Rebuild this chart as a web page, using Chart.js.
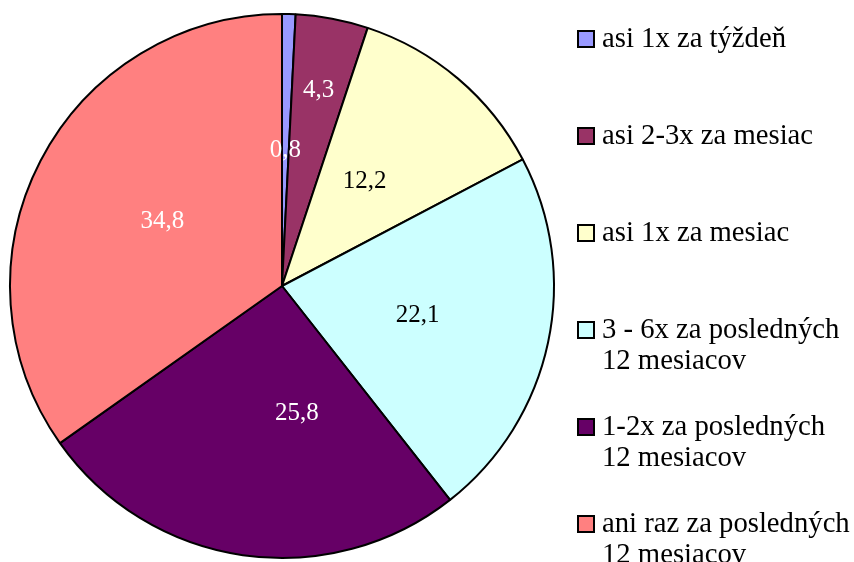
<!DOCTYPE html>
<html>
<head>
<meta charset="utf-8">
<script src="https://cdn.jsdelivr.net/npm/chart.js@4/dist/chart.umd.min.js"></script>
<style>
  html, body { margin: 0; padding: 0; background: #fff; }
  #wrap { width: 854px; height: 562px; position: relative; }
</style>
</head>
<body>
<div id="wrap"><canvas id="pie"></canvas></div>
<script>
// categories (each entry is one legend line set)
const categories = [
  ['asi 1x za týždeň'],
  ['asi 2-3x za mesiac'],
  ['asi 1x za mesiac'],
  ['3 - 6x za posledných', '12 mesiacov'],
  ['1-2x za posledných', '12 mesiacov'],
  ['ani raz za posledných', '12 mesiacov']
];
const shares = [0.8, 4.3, 12.2, 22.1, 25.8, 34.8];
const sliceColors = ['#9999FF', '#993366', '#FFFFCC', '#CCFFFF', '#660066', '#FF8080'];
const labelColors = ['#fff', '#fff', '#000', '#000', '#fff', '#fff'];

const SERIF = '"Liberation Serif", "Times New Roman", serif';

// value labels inside the slices (radius factor, angle nudge in degrees)
const labelPlace = [[0.5, 0], [0.73, 0], [0.49, -2], [0.51, 0], [0.47, -15], [0.5, 1]];
const valueLabels = {
  id: 'valueLabels',
  afterDatasetsDraw(chart) {
    const ctx = chart.ctx;
    const meta = chart.getDatasetMeta(0);
    ctx.save();
    ctx.font = '25px ' + SERIF;
    ctx.textAlign = 'center';
    ctx.textBaseline = 'middle';
    meta.data.forEach((arc, i) => {
      const [f, nudge] = labelPlace[i];
      const mid = (arc.startAngle + arc.endAngle) / 2 + nudge * Math.PI / 180;
      const r = arc.outerRadius * f;
      ctx.fillStyle = labelColors[i];
      ctx.fillText(shares[i].toFixed(1).replace('.', ','),
        arc.x + Math.cos(mid) * r, arc.y + Math.sin(mid) * r);
    });
    ctx.restore();
  }
};

// legend on the right, with wrapped lines
const sideLegend = {
  id: 'sideLegend',
  afterDraw(chart) {
    const ctx = chart.ctx;
    const x0 = 578, step = 97, y0 = 39, lineH = 31;
    ctx.save();
    ctx.font = '28.7px ' + SERIF;
    ctx.textBaseline = 'middle';
    ctx.textAlign = 'left';
    chart.data.labels.forEach((lines, i) => {
      const y = y0 + i * step;
      ctx.fillStyle = sliceColors[i];
      ctx.fillRect(x0, y - 8, 16, 16);
      ctx.strokeStyle = '#000';
      ctx.lineWidth = 2;
      ctx.strokeRect(x0, y - 8, 16, 16);
      ctx.fillStyle = '#000';
      lines.forEach((t, k) => ctx.fillText(t, x0 + 24, y + k * lineH));
    });
    ctx.restore();
  }
};

new Chart(document.getElementById('pie'), {
  type: 'pie',
  data: {
    labels: categories,
    datasets: [{
      data: shares,
      backgroundColor: sliceColors,
      borderColor: '#000',
      borderWidth: 2,
      borderAlign: 'center'
    }]
  },
  options: {
    responsive: true,
    maintainAspectRatio: false,
    animation: false,
    layout: { padding: { left: 9, right: 299, top: 13, bottom: 3 } },
    plugins: { legend: { display: false }, tooltip: { enabled: false } }
  },
  plugins: [valueLabels, sideLegend]
});
</script>
</body>
</html>
